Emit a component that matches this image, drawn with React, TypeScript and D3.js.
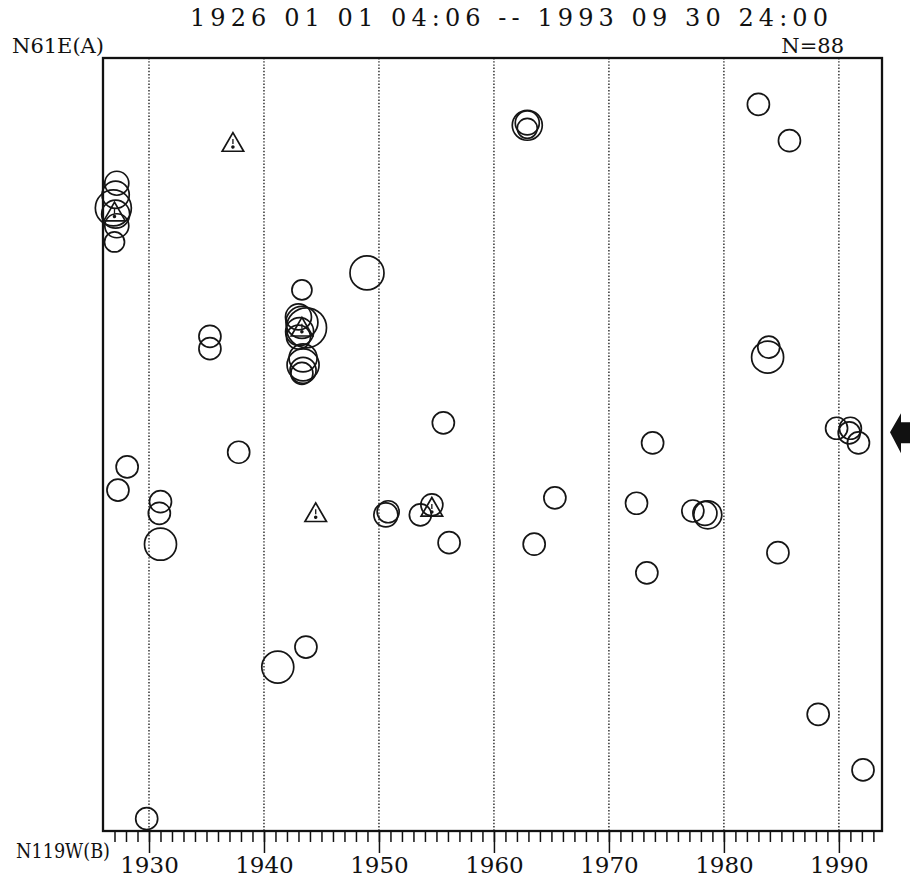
import React, { useEffect, useRef } from 'react';
import * as d3 from 'd3';

// events: decimal year, distance along profile A->B (0..100), magnitude
const quakeYear = [
  1927.2, 1927.1, 1926.9, 1927.1, 1927.2, 1927.0,
  1928.1, 1927.3, 1929.8, 1931.0, 1930.9, 1931.0,
  1935.3, 1935.3, 1937.8, 1941.2, 1943.65,
  1943.3, 1943.0, 1943.3, 1943.7, 1943.1, 1943.0, 1943.4, 1943.4, 1943.4, 1943.3,
  1948.96, 1950.8, 1950.6, 1953.6, 1954.6, 1955.6, 1956.1,
  1962.9, 1962.9, 1962.9, 1963.5, 1965.3,
  1972.4, 1973.3, 1973.8, 1977.3, 1978.35, 1978.6,
  1983.0, 1985.7, 1983.9, 1983.8, 1984.7, 1988.2,
  1989.8, 1991.0, 1990.9, 1991.7, 1992.1,
];
const quakeDist = [
  16.2, 17.7, 19.4, 20.2, 21.7, 23.8,
  52.9, 55.9, 98.4, 57.4, 58.9, 62.9,
  36.0, 37.6, 51.0, 78.8, 76.2,
  30.0, 33.5, 34.2, 34.9, 35.4, 36.1, 38.8, 39.7, 40.4, 40.8,
  27.8, 58.7, 59.1, 59.1, 57.8, 47.2, 62.7,
  8.7, 8.4, 9.1, 62.9, 56.9,
  57.6, 66.6, 49.8, 58.6, 58.9, 59.1,
  6.0, 10.7, 37.4, 38.7, 64.0, 84.9,
  47.9, 47.9, 48.5, 49.8, 92.1,
];
const quakeMag = [
  5.5, 5.9, 7.0, 6.0, 5.5, 5.0,
  5.25, 5.25, 5.25, 5.25, 5.25, 6.5,
  5.25, 5.25, 5.25, 6.5, 5.25,
  5.0, 5.75, 6.5, 7.5, 6.0, 5.5, 6.0, 6.5, 5.75, 5.25,
  6.75, 5.25, 5.5, 5.25, 5.25, 5.25, 5.25,
  6.25, 5.5, 5.0, 5.25, 5.25,
  5.25, 5.25, 5.25, 5.25, 5.5, 6.0,
  5.25, 5.25, 5.25, 6.5, 5.25, 5.25,
  5.25, 5.25, 5.25, 5.25, 5.25,
];

// triangles (other event type)
const triYear = [1927.0, 1937.3, 1943.3, 1944.5, 1954.6];
const triDist = [20.0, 11.0, 34.9, 58.9, 58.2];

const decadeTicks = [1930, 1940, 1950, 1960, 1970, 1980, 1990];
const yearTicks = d3.range(1927, 1994);
const arrowDist = 48.4;

const title = '1926 01 01 04:06 -- 1993 09 30 24:00';
const topLabel = 'N61E(A)';
const bottomLabel = 'N119W(B)';
const countLabel = 'N=88';

const FONT = "'DejaVu Serif', 'Liberation Serif', serif";

export default function App() {
  const axisRef = useRef<SVGGElement>(null);

  const left = 103, right = 882, top = 58, bottom = 831;
  const x = d3.scaleLinear().domain([1926, 1993.75]).range([left, right]);
  const y = d3.scaleLinear().domain([0, 100]).range([top, bottom]);
  const r = d3.scaleLinear().domain([5, 8]).range([10, 22]);

  useEffect(() => {
    const g = d3.select(axisRef.current);
    g.selectAll('*').remove();
    // minor yearly ticks
    g.append('g')
      .attr('transform', `translate(0,${bottom})`)
      .call(d3.axisBottom(x).tickValues(yearTicks).tickSize(11).tickFormat(() => ''))
      .call(s => s.select('.domain').remove())
      .selectAll('line').attr('stroke', '#111').attr('stroke-width', 1.5);
    // decade ticks with labels
    const major = g.append('g')
      .attr('transform', `translate(0,${bottom})`)
      .call(d3.axisBottom(x).tickValues(decadeTicks).tickSize(22).tickPadding(4).tickFormat(d3.format('d')))
      .call(s => s.select('.domain').remove());
    major.selectAll('line').attr('stroke', '#111').attr('stroke-width', 1.5);
    major.selectAll('text')
      .attr('font-family', FONT)
      .attr('font-size', 23)
      .attr('fill', '#111');
  }, []);

  const tri = d3.symbol().type(d3.symbolTriangle).size(200);
  const ay = y(arrowDist);

  return (
    <svg width={910} height={880} style={{ position: 'absolute', left: 0, top: 0, background: '#fff' }}>
      <text x={509} y={26} textAnchor="middle" fontFamily={FONT} fontSize={24} fill="#111"
        textLength={638} lengthAdjust="spacing">{title}</text>
      <text x={12} y={53} fontFamily={FONT} fontSize={21} fill="#111">{topLabel}</text>
      <text x={844} y={53} textAnchor="end" fontFamily={FONT} fontSize={21} fill="#111">{countLabel}</text>

      {/* decade grid */}
      {decadeTicks.map(t => (
        <line key={t} x1={x(t)} x2={x(t)} y1={top} y2={bottom}
          stroke="#222" strokeWidth={1.4} strokeDasharray="1.4 1.8" />
      ))}

      {/* events */}
      <g fill="none" stroke="#151515" strokeWidth={1.7}>
        {quakeYear.map((yr, i) => (
          <circle key={i} cx={x(yr)} cy={y(quakeDist[i])} r={r(quakeMag[i])} />
        ))}
        {triYear.map((yr, i) => (
          <g key={'t' + i} transform={`translate(${x(yr)},${y(triDist[i]) + 2})`}>
            <path d={tri() || ''} />
            <line x1={0} x2={0} y1={-6} y2={-1} strokeWidth={1.3} />
            <circle cx={0} cy={2} r={0.9} fill="#151515" />
          </g>
        ))}
      </g>

      {/* frame */}
      <rect x={left} y={top} width={right - left} height={bottom - top}
        fill="none" stroke="#111" strokeWidth={2.3} />

      <g ref={axisRef} />

      <text x={16} y={858} fontFamily={FONT} fontSize={20} fill="#111"
        textLength={94} lengthAdjust="spacingAndGlyphs">{bottomLabel}</text>

      {/* position marker arrow */}
      <path d={`M890,${ay} L901,${ay - 19} L901,${ay - 10} L910,${ay - 10} L910,${ay + 11} L901,${ay + 11} L901,${ay + 21} Z`}
        fill="#111" />
    </svg>
  );
}
